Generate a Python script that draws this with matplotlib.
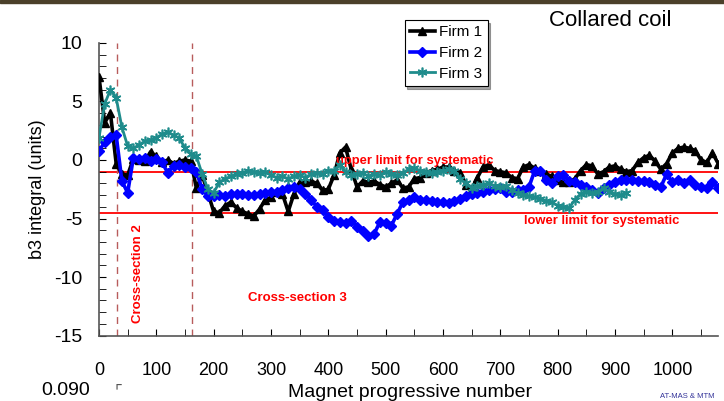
import numpy as np
import matplotlib
matplotlib.use("Agg")
import matplotlib.pyplot as plt
from matplotlib.patches import Rectangle
from matplotlib.ticker import MultipleLocator

plt.rcParams['font.family'] = ['Liberation Sans', 'DejaVu Sans']
plt.rcParams['axes.unicode_minus'] = False

# b3 integral per magnet, read every 10 magnets
firm1_x = list(range(0, 1090, 10))
firm1_b3 = [7.1, 3.2, 4.0, -0.3, -1.2, -1.3, 0.1, 0.0, -0.1, 0.7,
            0.3, -0.2, 0.0, -0.3, -0.1, 0.0, -0.1, -2.4, -1.3, -2.8,
            -4.4, -4.5, -3.9, -3.6, -4.1, -4.4, -4.6, -4.8, -4.2, -3.4,
            -3.2, -2.7, -2.9, -4.4, -2.9, -1.9, -1.9, -1.8, -2.0, -2.6,
            -2.5, -1.3, 0.6, 1.1, -0.8, -2.3, -1.8, -1.9, -1.8, -2.1,
            -2.3, -2.0, -1.7, -2.4, -2.3, -1.6, -1.5, -1.1, -0.9, -0.8,
            -0.6, -0.6, -0.9, -1.1, -2.1, -2.5, -1.5, -0.6, -0.4, -0.9,
            -1.0, -1.1, -1.5, -1.6, -0.6, -0.4, -0.7, -0.9, -1.2, -1.4,
            -1.7, -1.9, -1.9, -1.6, -0.9, -0.4, -0.5, -1.2, -1.0, -0.6,
            -0.5, -0.8, -1.0, -0.9, -0.2, 0.2, 0.4, -0.1, -0.8, -0.3,
            0.6, 1.0, 1.1, 1.0, 0.8, 0.0, -0.2, 0.6, -0.3]

firm2_x = list(range(0, 1090, 10))
firm2_b3 = [0.8, 1.5, 2.0, 2.1, -1.8, -2.8, 0.2, 0.1, 0.2, -0.1,
            0.1, -0.2, -1.1, -0.5, -0.4, -0.6, -0.7, -1.0, -2.5, -3.1,
            -3.1, -3.0, -3.1, -2.9, -2.9, -2.9, -3.0, -3.0, -2.9, -2.8,
            -2.7, -2.7, -2.6, -2.4, -2.3, -2.5, -2.9, -3.4, -4.0, -4.3,
            -4.9, -5.2, -5.3, -5.4, -5.2, -5.7, -6.1, -6.5, -6.3, -5.3,
            -5.4, -5.6, -4.6, -3.6, -3.4, -3.2, -3.4, -3.4, -3.5, -3.6,
            -3.6, -3.7, -3.5, -3.3, -3.1, -2.9, -2.8, -2.7, -2.6, -2.5,
            -2.4, -2.7, -2.7, -2.6, -2.6, -2.3, -0.9, -0.9, -1.7, -2.0,
            -1.4, -1.3, -1.8, -1.9, -2.1, -2.3, -2.6, -2.8, -2.4, -2.1,
            -1.9, -1.7, -1.7, -1.7, -1.8, -1.8, -1.9, -2.1, -2.3, -1.2,
            -1.9, -1.7, -2.0, -1.7, -2.1, -2.3, -2.4, -1.9, -2.4]

firm3_x = list(range(0, 930, 10))
firm3_b3 = [1.9, 4.8, 6.0, 5.3, 2.8, 1.2, 1.0, 1.3, 1.6, 1.7,
            1.9, 2.2, 2.4, 2.1, 1.9, 1.0, 0.5, 0.3, -1.2, -2.5,
            -2.8, -1.9, -1.6, -1.4, -1.2, -1.1, -0.9, -1.0, -1.1, -1.0,
            -1.3, -1.5, -1.4, -1.6, -1.4, -1.3, -1.5, -1.2, -1.1, -1.2,
            -0.9, -0.9, -0.4, -1.0, -1.3, -1.2, -1.1, -1.4, -1.2, -1.3,
            -1.0, -1.2, -1.3, -1.1, -0.8, -0.7, -0.9, -1.0, -1.1, -1.0,
            -0.9, -0.8, -0.9, -1.6, -2.0, -2.4, -2.2, -2.1, -2.0, -2.2,
            -2.3, -2.2, -2.6, -2.8, -3.0, -3.1, -3.2, -3.3, -3.5, -3.6,
            -3.9, -4.0, -4.1, -3.4, -2.9, -2.7, -2.8, -2.7, -2.4, -2.7,
            -2.9, -3.0, -2.8]

upper_limit = -1.0
lower_limit = -4.5
cross_sections = [31, 163]
x_ticks = list(range(0, 1001, 100))

fig = plt.figure(figsize=(7.24, 4.01), dpi=100)
ax = fig.add_axes([0.1367, 0.1633, 0.8553, 0.7295])

# thin photo strip at the very top of the slide
fig.patches.append(Rectangle((0, 0.992), 1, 0.008, transform=fig.transFigure,
                             color="#4b402a", zorder=0))

ax.axhline(upper_limit, color="#ff0000", lw=1.3, zorder=1)
ax.axhline(lower_limit, color="#ff0000", lw=1.3, zorder=1)
for xc in cross_sections:
    ax.axvline(xc, color="#b85c5c", lw=1.0, ls=(0, (5, 4)), zorder=1)

ax.plot(firm1_x, firm1_b3, color="black", lw=2.6, marker="^", ms=6,
        label="Firm 1", zorder=3)
ax.plot(firm2_x, firm2_b3, color="#0000ff", lw=2.6, marker="D", ms=5,
        label="Firm 2", zorder=3)
ax.plot(firm3_x, firm3_b3, color="#1f8c8c", lw=2.0, marker=(6, 2, 0), ms=7,
        mew=1.2, label="Firm 3", zorder=4)

ax.set_xlim(0, 1080)
ax.set_ylim(-15, 10)
ax.set_xticks(x_ticks)
ax.xaxis.set_minor_locator(MultipleLocator(50))
ax.yaxis.set_major_locator(MultipleLocator(5))
ax.yaxis.set_minor_locator(MultipleLocator(1))
ax.tick_params(axis="x", which="both", direction="in", length=5, pad=19,
               labelsize=13)
ax.tick_params(axis="y", which="both", direction="in", length=5, pad=12,
               labelsize=14)
ax.spines["top"].set_visible(False)
ax.spines["right"].set_visible(False)
for s in ("left", "bottom"):
    ax.spines[s].set_color("#555555")
    ax.spines[s].set_linewidth(1.2)

ax.set_ylabel("b3 integral (units)", fontsize=13, labelpad=6)
fig.text(0.567, 0.022, "Magnet progressive number", fontsize=14,
         ha="center", va="center")

ax.text(414, -0.1, "upper limit for systematic", color="#ff0000",
        fontsize=9.4, fontweight="bold", ha="left", va="center")
ax.text(741, -5.2, "lower limit for systematic", color="#ff0000",
        fontsize=9.4, fontweight="bold", ha="left", va="center")
ax.text(346, -11.8, "Cross-section 3", color="#ff0000", fontsize=9.5,
        fontweight="bold", ha="center", va="center")
ax.text(68, -9.7, "Cross-section 2", color="#ff0000", fontsize=9.5,
        fontweight="bold", rotation=90, ha="center", va="center")

fig.text(0.8425, 0.948, "Collared coil", fontsize=16, ha="center",
         va="center")
fig.text(0.091, 0.027, "0.090", fontsize=14, ha="center", va="center")
fig.text(0.163, 0.022, "\u231c", fontsize=12, ha="center", va="center",
         color="#555555")
fig.text(0.9116, 0.012, "AT-MAS & MTM", fontsize=5.5, ha="left",
         va="center", color="#333399")

leg = fig.legend(loc="upper left", bbox_to_anchor=(0.559, 0.950),
                 fontsize=11, frameon=True, fancybox=False, shadow=True,
                 handlelength=1.6, handletextpad=0.3, borderpad=0.35,
                 labelspacing=0.44, borderaxespad=0)
leg.get_frame().set_edgecolor("black")
leg.get_frame().set_linewidth(0.8)

fig.savefig("out.png", dpi=100)
